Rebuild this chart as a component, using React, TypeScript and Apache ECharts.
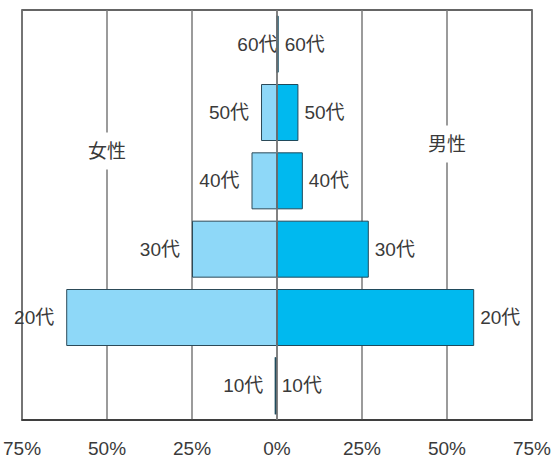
import React, { useEffect, useRef } from "react";
import * as echarts from "echarts";

const categories = ["10代", "20代", "30代", "40代", "50代", "60代"];
const femaleValues = [0.5, 62, 25, 7.5, 4.7, 0];
const maleValues = [0, 58, 27, 7.6, 6.3, 0.5];
const xTicks = [-75, -50, -25, 0, 25, 50, 75];
const groupLabels = [
  { text: "女性", value: -50 },
  { text: "男性", value: 50 },
];

const FONT = '"Liberation Sans", "Noto Sans CJK JP", sans-serif';
const TEXT_COLOR = "#3a3a3a";

export default function App() {
  const ref = useRef<HTMLDivElement>(null);
  useEffect(() => {
    document.body.style.margin = "0";
    if (!ref.current) return;
    const chart = echarts.init(ref.current, undefined, { renderer: "svg" });
    const option: any = {
      animation: false,
      textStyle: { fontFamily: FONT },
      grid: {
        left: 22,
        right: 26,
        top: 10,
        bottom: 39,
        show: true,
        borderColor: "#333",
        borderWidth: 1.5,
        backgroundColor: "transparent",
      },
      xAxis: {
        type: "value",
        min: xTicks[0],
        max: xTicks[xTicks.length - 1],
        interval: 25,
        axisLine: { show: true, lineStyle: { color: "#333", width: 1.5 } },
        axisTick: { show: false },
        axisLabel: {
          formatter: (v: number) => Math.abs(v) + "%",
          fontSize: 19,
          color: TEXT_COLOR,
          margin: 19,
          fontFamily: FONT,
        },
        splitLine: { show: true, lineStyle: { color: "#7a7a7a", width: 1.5 } },
      },
      yAxis: {
        type: "category",
        data: categories,
        axisLine: { show: false },
        axisTick: { show: false },
        axisLabel: { show: false },
        splitLine: { show: false },
      },
      series: [
        {
          name: "女性",
          type: "bar",
          stack: "total",
          barWidth: 57,
          itemStyle: { color: "#8ed8f8", borderColor: "#2c4a58", borderWidth: 1 },
          data: femaleValues.map((v, i) => ({
            value: -v,
            label: {
              show: true,
              position: "left",
              distance: categories[i] === "60代" ? -1 : 12,
              formatter: categories[i],
              fontSize: 19,
              color: TEXT_COLOR,
              fontFamily: FONT,
            },
          })),
        },
        {
          name: "男性",
          type: "bar",
          stack: "total",
          barWidth: 57,
          itemStyle: { color: "#00b9ef", borderColor: "#1f4a5c", borderWidth: 1 },
          data: maleValues.map((v, i) => ({
            value: v,
            label: {
              show: true,
              position: "right",
              distance: 6,
              formatter: categories[i],
              fontSize: 19,
              color: TEXT_COLOR,
              fontFamily: FONT,
            },
          })),
          markLine: {
            silent: true,
            symbol: "none",
            label: { show: false },
            lineStyle: { color: "#7a7a7a", width: 1.5, type: "solid" },
            data: [{ xAxis: 0 }],
            z: 10,
          },
        },
      ],
    };
    chart.setOption(option);
    const ys = [151, 144];
    chart.setOption({
      graphic: groupLabels.map((g, i) => {
        const x = chart.convertToPixel({ xAxisIndex: 0 }, g.value) as number;
        return {
          type: "text",
          x,
          y: ys[i],
          style: {
            text: g.text,
            fontSize: 19,
            fontFamily: FONT,
            fill: TEXT_COLOR,
            align: "center",
            verticalAlign: "middle",
            backgroundColor: "#fff",
            padding: [10, 3, 8, 3],
          },
          z: 100,
        };
      }),
    });
    return () => chart.dispose();
  }, []);
  return <div ref={ref} style={{ width: 558, height: 459 }} />;
}
